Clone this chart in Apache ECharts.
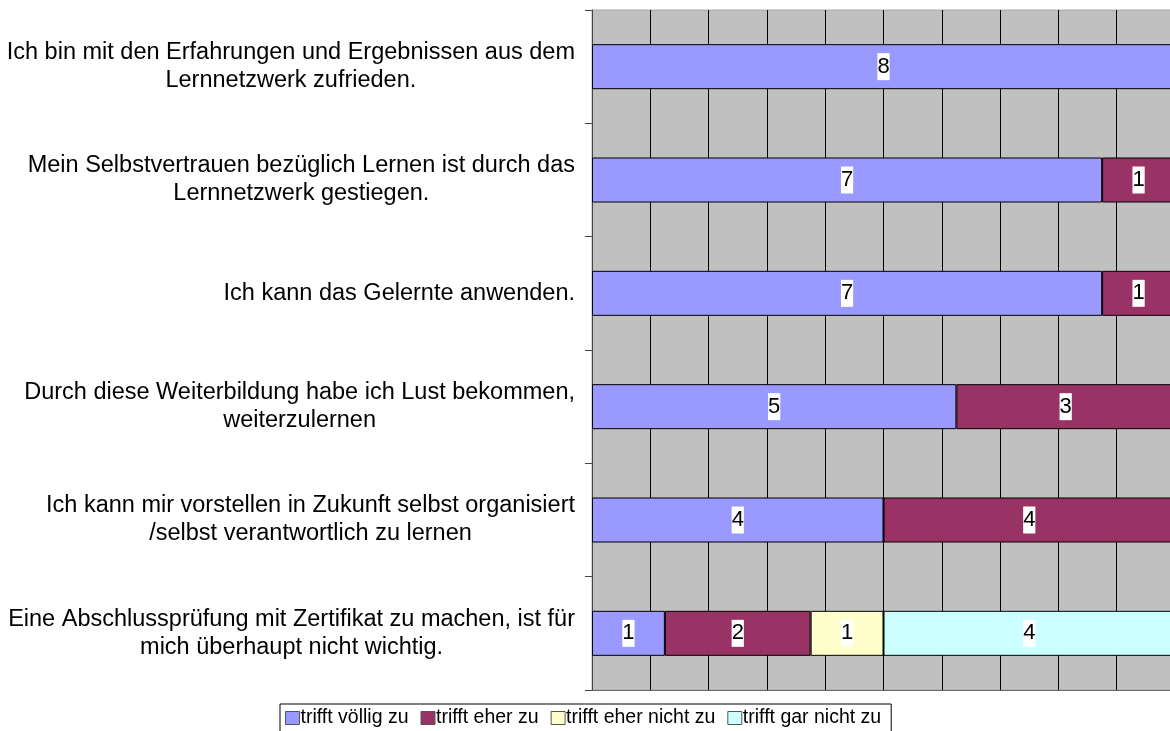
<!DOCTYPE html>
<html>
<head>
<meta charset="utf-8">
<script src="https://cdn.jsdelivr.net/npm/echarts@6/dist/echarts.min.js"></script>
<style>
  html, body { margin: 0; padding: 0; background: #fff; overflow: hidden; }
  #chart { width: 1170px; height: 731px; }
</style>
</head>
<body>
<div id="chart"></div>
<script>
// statements, top to bottom
const statements = [
  'Ich bin mit den Erfahrungen und Ergebnissen aus dem\nLernnetzwerk zufrieden.',
  'Mein Selbstvertrauen bezüglich Lernen ist durch das\nLernnetzwerk gestiegen.',
  'Ich kann das Gelernte anwenden.',
  'Durch diese Weiterbildung habe ich Lust bekommen,\nweiterzulernen',
  'Ich kann mir vorstellen in Zukunft selbst organisiert\n/selbst verantwortlich zu lernen',
  'Eine Abschlussprüfung mit Zertifikat zu machen, ist für\nmich überhaupt nicht wichtig.'
];

// answer counts per statement
const voelligZu = [8, 7, 7, 5, 4, 1];
const eherZu = [0, 1, 1, 3, 4, 2];
const eherNichtZu = [0, 0, 0, 0, 0, 1];
const garNichtZu = [0, 0, 0, 0, 0, 4];

const seriesNames = ['trifft völlig zu', 'trifft eher zu', 'trifft eher nicht zu', 'trifft gar nicht zu'];
const seriesColors = ['#9999FF', '#993366', '#FFFFCC', '#CCFFFF'];
const total = 8;

const chart = echarts.init(document.getElementById('chart'));

const makeSeries = (name, values, color) => ({
  name: name,
  type: 'bar',
  stack: 'all',
  barWidth: 45,
  data: values.map(v => (v ? v : null)),
  itemStyle: { color: color, borderColor: '#000', borderWidth: 1 },
  label: {
    show: true,
    position: 'inside',
    color: '#000',
    fontSize: 22,
    backgroundColor: '#fff',
    lineHeight: 27,
    padding: [0, 0]
  },
  emphasis: { disabled: true }
});

const option = {
  animation: false,
  textStyle: { fontFamily: 'Liberation Sans, Arial, sans-serif' },
  grid: {
    left: 592,
    right: -5,
    top: 10,
    bottom: 41,
    outerBoundsMode: 'none',
    containLabel: false,
    show: true,
    backgroundColor: '#C0C0C0',
    borderColor: '#aaa',
    borderWidth: 1
  },
  legend: {
    top: 704,
    left: 280,
    data: seriesNames,
    icon: 'rect',
    itemWidth: 14,
    itemHeight: 13,
    itemGap: 12,
    itemStyle: { borderColor: '#555', borderWidth: 1 },
    borderColor: '#000',
    borderWidth: 1,
    padding: [4, 10, 14, 5],
    textStyle: { fontSize: 19.5, color: '#000', padding: [0, 0, 0, -4] }
  },
  xAxis: {
    type: 'value',
    min: 0,
    max: total,
    interval: total / 10,
    axisLabel: { show: false },
    axisTick: { show: false },
    axisLine: { show: true, lineStyle: { color: '#666' } },
    splitLine: { show: true, lineStyle: { color: '#000', width: 1 } }
  },
  yAxis: {
    type: 'category',
    inverse: true,
    data: statements,
    axisLine: { show: true, lineStyle: { color: '#444' } },
    axisTick: { show: true, length: 7, lineStyle: { color: '#444' } },
    axisLabel: {
      margin: 17,
      color: '#000',
      fontSize: 23.5,
      lineHeight: 28,
      formatter: v => v.split('\n').map(l => '{c|' + l + '}').join('\n'),
      rich: { c: { align: 'center', fontSize: 23.5, lineHeight: 28, color: '#000' } }
    }
  },
  series: [
    makeSeries(seriesNames[0], voelligZu, seriesColors[0]),
    makeSeries(seriesNames[1], eherZu, seriesColors[1]),
    makeSeries(seriesNames[2], eherNichtZu, seriesColors[2]),
    makeSeries(seriesNames[3], garNichtZu, seriesColors[3])
  ]
};

chart.setOption(option);
</script>
</body>
</html>
